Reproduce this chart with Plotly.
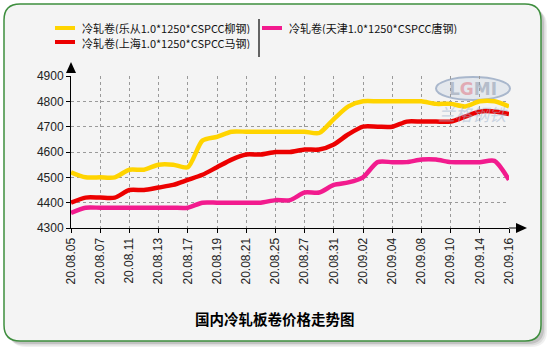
import plotly.graph_objects as go

# ---------------- data ----------------
dates = ["20.08.05", "20.08.06", "20.08.07", "20.08.10", "20.08.11", "20.08.12", "20.08.13",
         "20.08.14", "20.08.17", "20.08.18", "20.08.19", "20.08.20", "20.08.21", "20.08.24",
         "20.08.25", "20.08.26", "20.08.27", "20.08.28", "20.08.31", "20.09.01", "20.09.02",
         "20.09.03", "20.09.04", "20.09.07", "20.09.08", "20.09.09", "20.09.10", "20.09.11",
         "20.09.14", "20.09.15", "20.09.16"]
tick_labels = ["20.08.05", "20.08.07", "20.08.11", "20.08.13", "20.08.17", "20.08.19",
               "20.08.21", "20.08.25", "20.08.27", "20.08.31", "20.09.02", "20.09.04",
               "20.09.08", "20.09.10", "20.09.14", "20.09.16"]

name_lecong = "冷轧卷(乐从1.0*1250*CSPCC柳钢)"
name_shanghai = "冷轧卷(上海1.0*1250*CSPCC马钢)"
name_tianjin = "冷轧卷(天津1.0*1250*CSPCC唐钢)"

lecong = [4520, 4500, 4500, 4500, 4530, 4530, 4550, 4550, 4540, 4645, 4660, 4680, 4680, 4680,
          4680, 4680, 4680, 4675, 4730, 4780, 4800, 4800, 4800, 4800, 4800, 4790, 4790, 4780,
          4800, 4800, 4780]
shanghai = [4400, 4420, 4420, 4420, 4450, 4450, 4460, 4470, 4490, 4510, 4540, 4570, 4590, 4590,
            4600, 4600, 4610, 4610, 4630, 4670, 4700, 4700, 4700, 4720, 4720, 4720, 4720, 4740,
            4760, 4760, 4750]
tianjin = [4360, 4380, 4380, 4380, 4380, 4380, 4380, 4380, 4380, 4400, 4400, 4400, 4400, 4400,
           4410, 4410, 4440, 4440, 4470, 4480, 4500, 4560, 4560, 4560, 4570, 4570, 4560, 4560,
           4560, 4565, 4490]

y_ticks = [4300, 4400, 4500, 4600, 4700, 4800, 4900]
title_text = "国内冷轧板卷价格走势图"

# ---------------- geometry ----------------
W, H = 551, 351
L, R, T, B = 71, 42, 76, 123
PW, PH = W - L - R, H - T - B

def px(x):
    return (x - L) / PW

def py(y):
    return (H - B - y) / PH

COL_Y = "#FFD400"
COL_R = "#EC0000"
COL_P = "#F21B8E"
FONT = "Noto Sans CJK SC"

x_idx = list(range(len(dates)))
tick_idx = [dates.index(t) for t in tick_labels]

fig = go.Figure()
for vals, col, nm in [(tianjin, COL_P, name_tianjin), (shanghai, COL_R, name_shanghai),
                      (lecong, COL_Y, name_lecong)]:
    fig.add_trace(go.Scatter(x=x_idx, y=vals, mode="lines", name=nm,
                             line=dict(color=col, width=4.5, shape="spline", smoothing=0.7),
                             customdata=dates, hovertemplate="%{customdata}: %{y}<extra></extra>"))

shapes = []

def rrect(x0, y0, x1, y1, r):
    return (f"M {px(x0+r)},{py(y0)} L {px(x1-r)},{py(y0)} Q {px(x1)},{py(y0)} {px(x1)},{py(y0+r)} "
            f"L {px(x1)},{py(y1-r)} Q {px(x1)},{py(y1)} {px(x1-r)},{py(y1)} "
            f"L {px(x0+r)},{py(y1)} Q {px(x0)},{py(y1)} {px(x0)},{py(y1-r)} "
            f"L {px(x0)},{py(y0+r)} Q {px(x0)},{py(y0)} {px(x0+r)},{py(y0)} Z")

# shadow
for off, a in [(6, 0.06), (4.5, 0.08), (3, 0.12)]:
    shapes.append(dict(type="path", path=rrect(4 + off, 4 + off, 541 + off, 341 + off, 16),
                       xref="paper", yref="paper", line=dict(width=0),
                       fillcolor=f"rgba(0,0,0,{a})", layer="below"))
# panel
shapes.append(dict(type="path", path=rrect(4, 4, 541, 341, 16), xref="paper", yref="paper",
                   line=dict(color="#3E8E3E", width=1.5), fillcolor="#F4F4F4", layer="below"))

# watermark oval
shapes.append(dict(type="circle", xref="paper", yref="paper", x0=px(436), x1=px(510),
                   y0=py(77), y1=py(100), line=dict(color="#A9B7CC", width=2),
                   fillcolor="rgba(180,195,215,0.25)", layer="below"))

# axis arrows
shapes.append(dict(type="line", xref="paper", yref="paper", x0=px(509), x1=px(517),
                   y0=py(228), y1=py(228), line=dict(color="black", width=1)))
shapes.append(dict(type="path", xref="paper", yref="paper",
                   path=f"M {px(527)},{py(228)} L {px(516)},{py(223)} L {px(516)},{py(233)} Z",
                   fillcolor="black", line=dict(width=0)))
shapes.append(dict(type="path", xref="paper", yref="paper",
                   path=f"M {px(71)},{py(62)} L {px(66)},{py(73)} L {px(76)},{py(73)} Z",
                   fillcolor="black", line=dict(width=0)))

# legend
legend_items = [(name_lecong, COL_Y, 55, 28), (name_shanghai, COL_R, 55, 42),
                (name_tianjin, COL_P, 262, 28)]
annotations = []
for nm, col, lx, ly in legend_items:
    shapes.append(dict(type="line", xref="paper", yref="paper", x0=px(lx), x1=px(lx + 20),
                       y0=py(ly), y1=py(ly), line=dict(color=col, width=4)))
    annotations.append(dict(text=nm, xref="paper", yref="paper", x=px(lx + 25), y=py(ly),
                            xanchor="left", yanchor="middle", showarrow=False, height=13,
                            font=dict(family=FONT, size=11, color="#111")))
shapes.append(dict(type="line", xref="paper", yref="paper", x0=px(259), x1=px(259),
                   y0=py(19), y1=py(57), line=dict(color="#333", width=1.5)))

# watermark text
annotations.append(dict(text="<b>L<span style='color:#E07A86'>G</span>MI</b>", xref="paper",
                        yref="paper", x=px(473), y=py(89), xanchor="center", yanchor="middle",
                        showarrow=False, font=dict(family="DejaVu Sans", size=17, color="#8F9AAE"),
                        opacity=0.55))
annotations.append(dict(text="<i>兰格钢铁</i>", xref="paper", yref="paper", x=px(473), y=py(113),
                        xanchor="center", yanchor="middle",
                        showarrow=False, font=dict(family=FONT, size=17, color="#9FB3CF"),
                        opacity=0.5))

# title
annotations.append(dict(text=f"<b>{title_text}</b>", xref="paper", yref="paper", x=px(275),
                        y=py(318), showarrow=False, xanchor="center", yanchor="middle",
                        font=dict(family=FONT, size=14.5, color="black")))

fig.update_layout(
    width=W, height=H, margin=dict(l=L, r=R, t=T, b=B, pad=0),
    paper_bgcolor="white", plot_bgcolor="rgba(0,0,0,0)",
    showlegend=False, shapes=shapes, annotations=annotations,
    xaxis=dict(range=[0, len(dates) - 1], tickvals=tick_idx, ticktext=tick_labels,
               tickangle=-90, showgrid=True, gridcolor="#9A9A9A", griddash="dot", gridwidth=1,
               showline=True, linecolor="black", linewidth=1, ticks="outside", ticklen=4,
               tickcolor="black", zeroline=False,
               tickfont=dict(family="Liberation Sans", size=12, color="#222")),
    yaxis=dict(range=[4300, 4900], tickvals=y_ticks, showgrid=True, gridcolor="#9A9A9A",
               griddash="dot", gridwidth=1, showline=True, linecolor="black", linewidth=1,
               ticks="outside", ticklen=4, tickcolor="black", zeroline=False,
               tickfont=dict(family="Liberation Sans", size=12, color="#222")),
)

fig.write_html("out.html")
